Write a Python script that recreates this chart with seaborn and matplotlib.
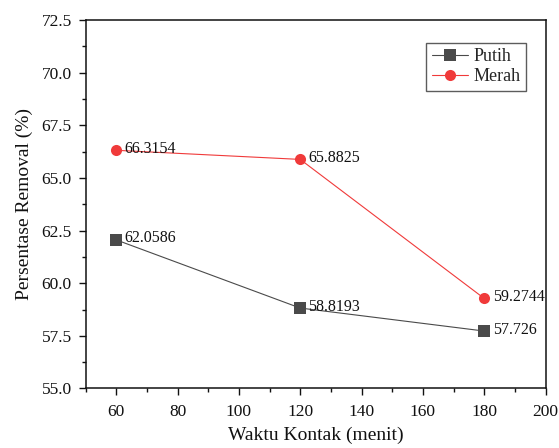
import matplotlib
matplotlib.use("Agg")
import matplotlib.pyplot as plt
import seaborn as sns
import pandas as pd
from matplotlib.ticker import MultipleLocator

waktu = [60, 120, 180]
putih = [62.0586, 58.8193, 57.726]
merah = [66.3154, 65.8825, 59.2744]
putih_labels = ["62.0586", "58.8193", "57.726"]
merah_labels = ["66.3154", "65.8825", "59.2744"]
yticks = [55, 57.5, 60, 62.5, 65, 67.5, 70, 72.5]
xticks = [60, 80, 100, 120, 140, 160, 180, 200]

sns.set_theme(style="ticks")
plt.rcParams['font.family'] = ['Liberation Serif', 'DejaVu Serif']

df = pd.DataFrame({
    "Waktu": waktu * 2,
    "Nilai": putih + merah,
    "Seri": ["Putih"] * 3 + ["Merah"] * 3,
})

fig = plt.figure(figsize=(5.59, 4.48), dpi=100)
ax = fig.add_axes([0.153, 0.133, 0.823, 0.822])

sns.lineplot(data=df, x="Waktu", y="Nilai", hue="Seri", style="Seri",
             palette={"Putih": "#4a4a4a", "Merah": "#f03a3a"},
             markers={"Putih": "s", "Merah": "o"}, dashes=False,
             markersize=8, linewidth=0.8, markeredgewidth=0,
             ax=ax, legend=True)

for x, y, t in zip(waktu, putih, putih_labels):
    ax.annotate(t, (x, y), xytext=(6, 1), textcoords="offset points",
                fontsize=11.5, va="center", ha="left", color="#111111")
for x, y, t in zip(waktu, merah, merah_labels):
    ax.annotate(t, (x, y), xytext=(6, 1), textcoords="offset points",
                fontsize=11.5, va="center", ha="left", color="#111111")

ax.set_xlim(50, 200)
ax.set_ylim(55, 72.5)
ax.xaxis.set_minor_locator(MultipleLocator(10))
ax.yaxis.set_minor_locator(MultipleLocator(1.25))
ax.set_xticks(xticks)
ax.set_yticks(yticks)
ax.set_yticklabels([f"{v:.1f}" for v in yticks])
ax.tick_params(which="major", direction="out", length=5, width=1, labelsize=12.5,
               colors="#111111", pad=5)
ax.tick_params(axis="x", which="major", pad=6)
ax.tick_params(which="minor", direction="out", length=3, width=1, colors="#111111")
for s in ax.spines.values():
    s.set_linewidth(1.1)
    s.set_color("#111111")
    s.set_visible(True)

ax.set_xlabel("Waktu Kontak (menit)", fontsize=14, labelpad=5, color="#111111")
ax.set_ylabel("Persentase Removal (%)", fontsize=14, labelpad=6, color="#111111")

handles, labels = ax.get_legend_handles_labels()
leg = ax.legend(handles, labels, loc="upper right", bbox_to_anchor=(0.957, 0.938),
                fontsize=13, frameon=True, fancybox=False, edgecolor="#333333",
                handlelength=2.0, handletextpad=0.3, borderpad=0.3, labelspacing=0.15,
                borderaxespad=0)
leg.get_frame().set_linewidth(1.0)

fig.savefig("out.png", dpi=100, facecolor="white")
